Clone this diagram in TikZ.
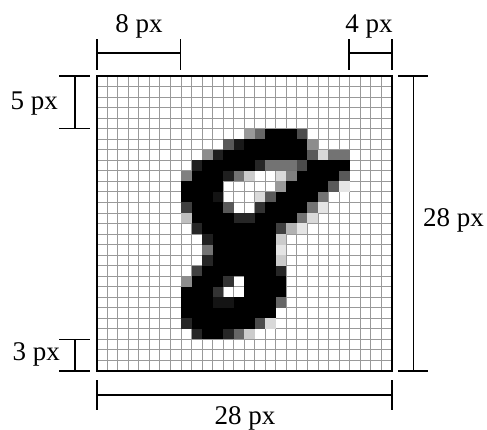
\documentclass[tikz,border=0pt]{standalone}
\usepackage{fontspec}
\setmainfont{Liberation Serif}
\begin{document}
\begin{tikzpicture}[x=1pt,y=-1pt,
  dim/.style={line width=1.6pt},
  lbl/.style={inner sep=0pt, font=\fontsize{27}{30}\selectfont},
  gridline/.style={gray!80, line width=0.9pt}]
\useasboundingbox[fill=white] (0,0) rectangle (487,430);
\begin{scope}[shift={(96.7,76)}, x=10.5357pt, y=-10.5357pt]
  \foreach \i in {1,...,27} {
    \draw[gridline] (\i,0) -- (\i,28);
    \draw[gridline] (0,\i) -- (28,\i);
  }
  \foreach \r/\a/\b in {5/16/18, 6/14/19, 7/12/19, 8/10/14, 8/20/23, 9/9/11, 9/19/22,
      10/8/11, 10/18/21, 11/8/10, 11/17/20, 12/9/11, 12/16/19, 13/9/12, 13/15/18,
      14/10/16, 15/11/16, 16/11/16, 17/11/16, 18/10/16, 19/9/11, 19/14/17,
      20/8/10, 20/14/17, 21/8/10, 21/13/16, 22/8/16, 23/9/14, 24/10/11}
    \fill[black] (\a,\r) rectangle (\b+1,\r+1);
  \foreach \r/\c/\v in {5/14/40, 5/15/60, 5/19/70,
      6/12/65, 6/13/90, 6/20/45,
      7/10/45, 7/11/88, 7/20/65, 7/21/15, 7/22/55, 7/23/55,
      8/9/88, 8/15/85, 8/16/55, 8/17/55, 8/18/55, 8/19/70,
      9/8/50, 9/12/88, 9/13/55, 9/14/20, 9/17/15, 9/18/50, 9/23/65,
      10/17/40, 10/22/65, 10/23/10,
      11/11/92, 11/15/15, 11/16/65, 11/21/55,
      12/8/75, 12/12/65, 12/15/80, 12/20/55, 12/21/10,
      13/8/25, 13/13/85, 13/14/85, 13/19/55, 13/20/15,
      14/9/85, 14/17/75, 14/18/30, 14/19/10,
      15/10/88, 15/17/20, 16/10/55, 16/17/10, 17/10/85, 17/17/20,
      18/9/75, 18/17/85, 19/8/45, 19/12/80, 20/11/80,
      21/11/92, 21/12/92, 21/17/60,
      23/8/85, 23/15/70, 23/16/15,
      24/9/85, 24/12/85, 24/13/60, 24/14/20}
    \fill[black!\v] (\c,\r) rectangle (\c+1,\r+1);
  \draw[line width=1.6pt] (0,0) rectangle (28,28);
\end{scope}
% dimension: 8 px
\coordinate (t8a) at (96.7,53.3); \coordinate (t8b) at (180.5,53.3);
\draw[dim] (t8a) -- (t8b);
\draw[dim] (96.7,39.3) -- (96.7,70);
\draw[dim] (180.5,39.3) -- (180.5,70);
\node[lbl, anchor=base] (l8) at (139,33) {8 px};
% dimension: 4 px
\coordinate (t4a) at (349,53.3); \coordinate (t4b) at (391.7,53.3);
\draw[dim] (t4a) -- (t4b);
\draw[dim] (349,39.3) -- (349,70);
\draw[dim] (391.7,39.3) -- (391.7,70);
\node[lbl, anchor=base] (l4) at (369,33) {4 px};
% dimension: 5 px
\coordinate (l5a) at (75,76); \coordinate (l5b) at (75,128.6);
\draw[dim] (l5a) -- (l5b);
\draw[dim] (59.3,76) -- (90,76);
\draw[dim] (59.3,128.6) -- (90,128.6);
\node[lbl, anchor=base east] (l5) at (58,110) {5 px};
% dimension: 3 px
\coordinate (l3a) at (75,339.5); \coordinate (l3b) at (75,371);
\draw[dim] (l3a) -- (l3b);
\draw[dim] (59.3,339.5) -- (90,339.5);
\draw[dim] (59.3,371) -- (90,371);
\node[lbl, anchor=base east] (l3) at (60,360) {3 px};
% dimension: 28 px right
\coordinate (r28a) at (413.3,76); \coordinate (r28b) at (413.3,371);
\draw[dim] (r28a) -- (r28b);
\draw[dim] (398.3,76) -- (428.3,76);
\draw[dim] (398.3,371) -- (428.3,371);
\node[lbl, anchor=base west] (lr28) at (423,227) {28 px};
% dimension: 28 px bottom
\coordinate (b28a) at (96.7,395); \coordinate (b28b) at (391.7,395);
\draw[dim] (b28a) -- (b28b);
\draw[dim] (96.7,380) -- (96.7,410);
\draw[dim] (391.7,380) -- (391.7,410);
\node[lbl, anchor=base] (lb28) at (245,424) {28 px};
\end{tikzpicture}
\end{document}
